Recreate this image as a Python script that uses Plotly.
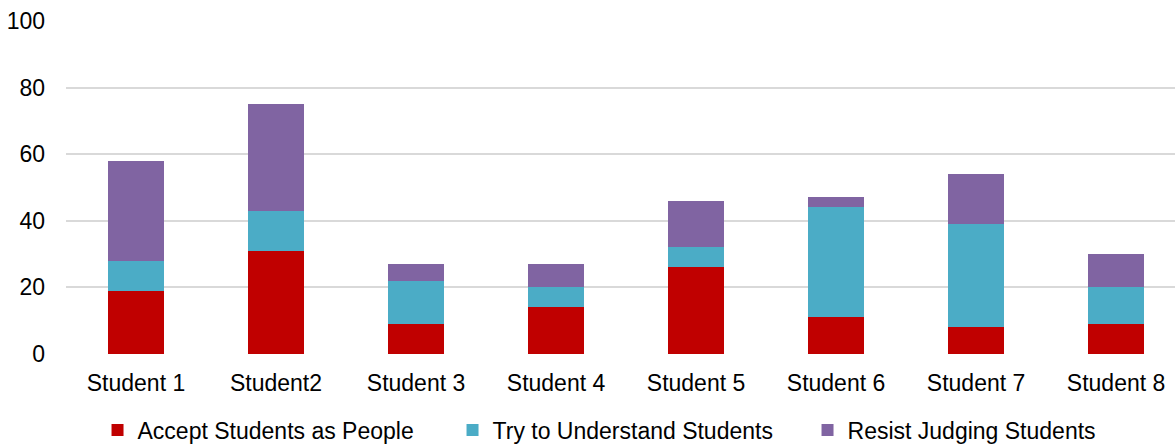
import plotly.graph_objects as go

students = ["Student 1", "Student2", "Student 3", "Student 4",
            "Student 5", "Student 6", "Student 7", "Student 8"]
accept = [19, 31, 9, 14, 26, 11, 8, 9]
understand = [9, 12, 13, 6, 6, 33, 31, 11]
resist = [30, 32, 5, 7, 14, 3, 15, 10]

series = [
    ("Accept Students as People", accept, "#C00000"),
    ("Try to Understand Students", understand, "#4BACC6"),
    ("Resist Judging Students", resist, "#8064A2"),
]

fig = go.Figure()
for name, vals, color in series:
    fig.add_trace(go.Bar(
        x=students, y=vals, name=name,
        marker=dict(color=color, line=dict(width=0)),
        width=0.4,
    ))

font = "Liberation Sans, Arial, sans-serif"
fig.update_layout(
    barmode="stack",
    width=1175, height=446,
    margin=dict(l=66, r=0, t=21, b=92, autoexpand=False),
    plot_bgcolor="white", paper_bgcolor="white",
    font=dict(family=font, size=23, color="#000000"),
    showlegend=True,
    legend=dict(
        orientation="h", traceorder="normal",
        xref="container", x=0.083, xanchor="left",
        yref="container", y=0.036, yanchor="middle",
        entrywidth=310, entrywidthmode="pixels",
        font=dict(size=23), itemclick=False,
    ),
    xaxis=dict(
        range=[-0.5, 7.421], showgrid=False, zeroline=False,
        showline=False, ticks="", tickfont=dict(size=23),
        ticklabelstandoff=13,
    ),
    yaxis=dict(
        range=[0, 100], tickvals=[0, 20, 40, 60, 80, 100],
        showgrid=True, gridcolor="#D9D9D9", gridwidth=2,
        zeroline=False, showline=False, ticks="",
        ticklabelstandoff=20, tickfont=dict(size=23),
    ),
)

fig.write_html("out.html")
